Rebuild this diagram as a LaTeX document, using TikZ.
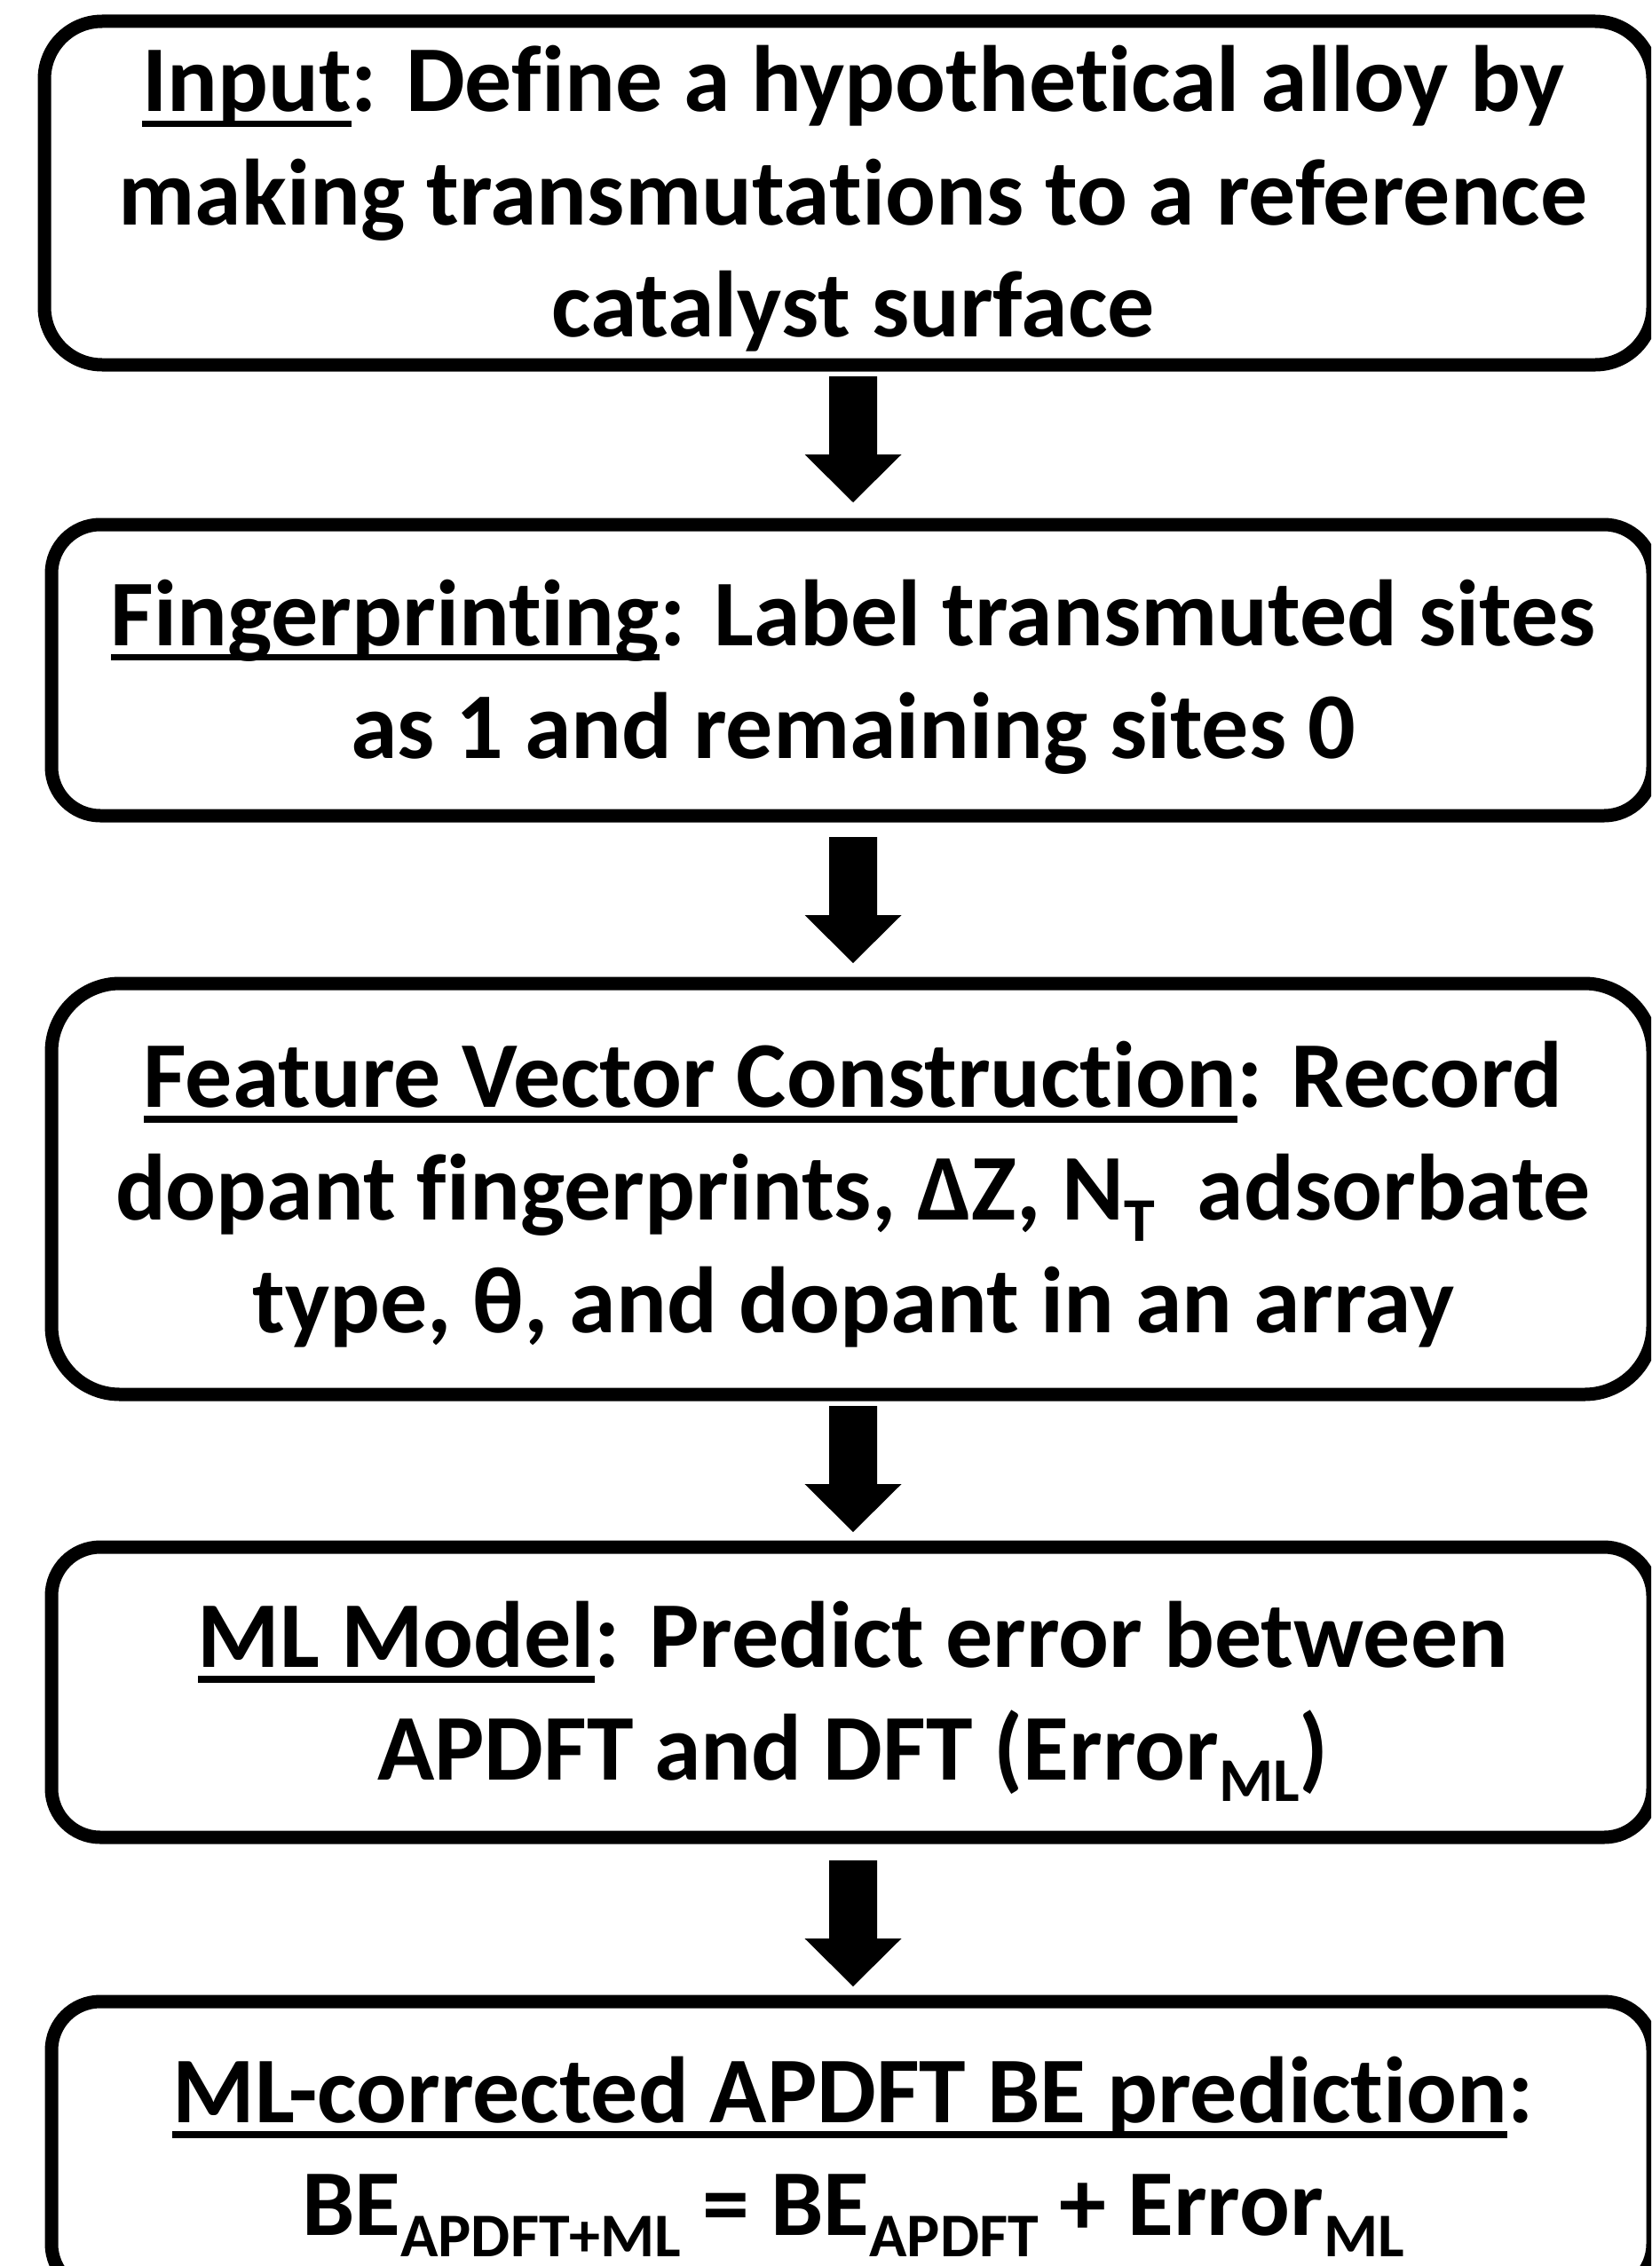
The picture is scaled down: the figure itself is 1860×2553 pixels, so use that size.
\documentclass[tikz,border=0pt]{standalone}
\usepackage{fontspec}
\setmainfont[Ligatures=NoCommon,BoldFeatures={Ligatures=NoCommon}]{Carlito}
\usetikzlibrary{calc}
\newcommand\nl{\kern0pt }
\newcommand\ulx[1]{\setbox0=\hbox{#1}\rlap{\rule[-0.165em]{\wd0}{0.075em}}\box0}
\newcommand\sbt[1]{\raisebox{-0.235em}{\fontsize{70}{70}\selectfont #1}}
\newcommand\flowarrow[2]{%
  \fill[blockarrow] ($(#1.south -| ax)+(0,#2)$) ++(-27,0) -- ++(54,0) -- ++(0,88)
    -- ++(27.5,0) -- ++(-54.5,54) -- ++(-54.5,-54) -- ++(27.5,0) -- cycle;}
\begin{document}
\begin{tikzpicture}[x=1pt,y=-1pt,
  stepbox/.style={draw=black, line width=15pt, outer sep=0pt, inner sep=0pt, fill=white, rectangle},
  steptext/.style={anchor=base, inner sep=0pt, font=\bfseries\fontsize{106}{127}\selectfont},
  blockarrow/.style={fill=black}]
\useasboundingbox (0,0) rectangle (1860,2553);
\clip (0,0) rectangle (1860,2553);
\coordinate (ax) at (961,0);

\node[stepbox, minimum width=1812pt, minimum height=387pt, rounded corners=65pt] (b1) at (956,217.5) {};
\node[stepbox, minimum width=1804pt, minimum height=328pt, rounded corners=55pt] (b2) at (960,755) {};
\node[stepbox, minimum width=1804pt, minimum height=463pt, rounded corners=77pt] (b3) at (960,1339.5) {};
\node[stepbox, minimum width=1804pt, minimum height=327pt, rounded corners=55pt] (b4) at (960,1906.5) {};
\node[stepbox, minimum width=1804pt, minimum height=328pt, rounded corners=55pt] (b5) at (960,2419) {};

\node[steptext] (t1) at (961,126) {\begin{tabular}[t]{@{}c@{}}\ulx{Input}: Def\nl ine a hypothet\nl ical alloy by\\ making transmutat\nl ions to a reference\\ catalyst surface\end{tabular}};
\node[steptext] (t2) at (961,727) {\begin{tabular}[t]{@{}c@{}}\ulx{Fingerprint\nl ing}: Label transmuted sites\\ as 1 and remaining sites 0\end{tabular}};
\node[steptext] (t3) at (961,1247) {\begin{tabular}[t]{@{}c@{}}\ulx{Feature Vector Construct\nl ion}: Record\\ dopant f\nl ingerprints, ΔZ, N\sbt{T}\ \ adsorbate\\ type, θ, and dopant in an array\end{tabular}};
\node[steptext] (t4) at (961,1878) {\begin{tabular}[t]{@{}c@{}}\ulx{ML Model}: Predict error between\\ APDFT and DFT (Error\sbt{ML})\end{tabular}};
\node[steptext] (t5) at (961,2391) {\begin{tabular}[t]{@{}c@{}}\ulx{ML-corrected APDFT BE predict\nl ion}:\\ BE\sbt{APDFT+ML} = BE\sbt{APDFT} + Error\sbt{ML}\end{tabular}};

\flowarrow{b1}{13}
\flowarrow{b2}{24}
\flowarrow{b3}{13}
\flowarrow{b4}{26}
\end{tikzpicture}
\end{document}
